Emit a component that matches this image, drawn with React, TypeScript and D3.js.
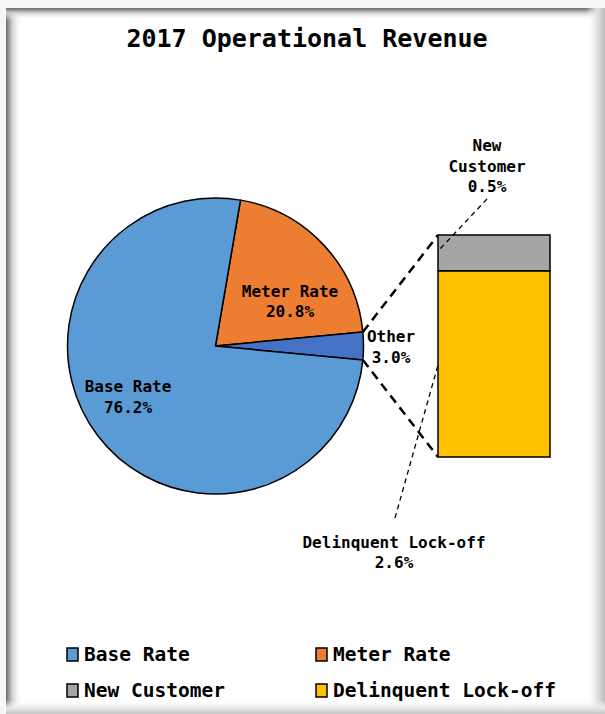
import React from "react";
import * as d3 from "d3";

const pieCategories = ["Meter Rate", "Other", "Base Rate"];
const pieValues = [20.8, 3.0, 76.2];
const pieColors = ["#ED7D31", "#4472C4", "#5B9BD5"];

const barCategories = ["Delinquent Lock-off", "New Customer"];
const barValues = [2.6, 0.5];
const barColors = ["#FFC000", "#A5A5A5"];

const legendItems = ["Base Rate", "Meter Rate", "New Customer", "Delinquent Lock-off"];
const legendColors = ["#5B9BD5", "#ED7D31", "#A5A5A5", "#FFC000"];

const W = 605;
const H = 714;
const FONT = "'DejaVu Sans Mono', monospace";

export default function App() {
  const cx = 215.5;
  const cy = 346;
  const r = 148;

  // Other slice centred at 3 o'clock
  const otherIdx = 1;
  const total = d3.sum(pieValues);
  const otherSpan = (pieValues[otherIdx] / total) * 2 * Math.PI;
  const startAngle = Math.PI / 2 - otherSpan / 2 - (pieValues[0] / total) * 2 * Math.PI;

  const pie = d3
    .pie<number>()
    .sort(null)
    .value((d) => d)
    .startAngle(startAngle)
    .endAngle(startAngle + 2 * Math.PI);
  const arcs = pie(pieValues);
  const arcGen = d3.arc<d3.PieArcDatum<number>>().innerRadius(0).outerRadius(r);

  const otherArc = arcs[otherIdx];
  const pt = (a: number) => [cx + r * Math.sin(a), cy - r * Math.cos(a)];
  const [ux, uy] = pt(otherArc.startAngle);
  const [lx, ly] = pt(otherArc.endAngle);

  // stacked bar
  const barX0 = 438;
  const barX1 = 550;
  const y = d3.scaleLinear().domain([0, d3.sum(barValues)]).range([457, 235]);
  let acc = 0;
  const segs = barValues.map((v, i) => {
    const s = { y0: y(acc), y1: y(acc + v), color: barColors[i], name: barCategories[i] };
    acc += v;
    return s;
  });

  const labelStyle: React.CSSProperties = {
    fontFamily: FONT,
    fontWeight: "bold",
    fontSize: 16,
    fill: "#000",
  };

  return (
    <svg
      width={W}
      height={H}
      style={{ position: "fixed", left: 0, top: 0, display: "block" }}
    >
      <defs>
        <linearGradient id="gl" x1="0" x2="1" y1="0" y2="0">
          <stop offset="0" stopColor="#6e6e6e" />
          <stop offset="0.12" stopColor="#8a8a8a" />
          <stop offset="0.35" stopColor="#c8c8c8" />
          <stop offset="1" stopColor="#ffffff" stopOpacity="0" />
        </linearGradient>
        <linearGradient id="gt" x1="0" x2="0" y1="0" y2="1">
          <stop offset="0" stopColor="#6e6e6e" />
          <stop offset="0.15" stopColor="#8a8a8a" />
          <stop offset="0.4" stopColor="#cfcfcf" />
          <stop offset="1" stopColor="#ffffff" stopOpacity="0" />
        </linearGradient>
        <linearGradient id="gr" x1="0" x2="1" y1="0" y2="0">
          <stop offset="0" stopColor="#ffffff" stopOpacity="0" />
          <stop offset="0.6" stopColor="#e0e0e0" />
          <stop offset="1" stopColor="#bdbdbd" />
        </linearGradient>
        <linearGradient id="gb" x1="0" x2="0" y1="0" y2="1">
          <stop offset="0" stopColor="#ffffff" stopOpacity="0" />
          <stop offset="0.6" stopColor="#e6e6e6" />
          <stop offset="1" stopColor="#c4c4c4" />
        </linearGradient>
      </defs>

      <rect x={0} y={0} width={W} height={H} fill="#f6f6f6" />
      <rect x={6} y={8} width={W - 6} height={H - 8} fill="#ffffff" />
      <rect x={6} y={8} width={16} height={H - 8} fill="url(#gl)" />
      <rect x={6} y={8} width={W - 6} height={12} fill="url(#gt)" />
      <rect x={586} y={8} width={19} height={H - 8} fill="url(#gr)" />
      <rect x={6} y={700} width={W - 6} height={14} fill="url(#gb)" />

      <text
        x={307}
        y={47}
        textAnchor="middle"
        style={{ fontFamily: FONT, fontWeight: "bold", fontSize: 25 }}
      >
        2017 Operational Revenue
      </text>

      {/* pie */}
      <g transform={`translate(${cx},${cy})`}>
        {arcs.map((a, i) => (
          <path
            key={pieCategories[i]}
            d={arcGen(a) || ""}
            fill={pieColors[i]}
            stroke="#000"
            strokeWidth={1.5}
            strokeLinejoin="round"
          />
        ))}
      </g>

      {/* connector lines */}
      <line x1={ux} y1={uy} x2={barX0} y2={segs[segs.length - 1].y1} stroke="#000" strokeWidth={2.5} strokeDasharray="9,6" />
      <line x1={lx} y1={ly} x2={barX0} y2={segs[0].y0} stroke="#000" strokeWidth={2.5} strokeDasharray="9,6" />

      {/* bar */}
      {segs.map((s) => (
        <rect
          key={s.name}
          x={barX0}
          y={s.y1}
          width={barX1 - barX0}
          height={s.y0 - s.y1}
          fill={s.color}
          stroke="#000"
          strokeWidth={1.5}
        />
      ))}

      {/* leader lines */}
      <line x1={487} y1={199} x2={440} y2={249} stroke="#000" strokeWidth={1.3} strokeDasharray="5,4" />
      <line x1={395} y1={518} x2={438} y2={365} stroke="#000" strokeWidth={1.3} strokeDasharray="5,4" />

      {/* labels */}
      <text x={290} y={297} textAnchor="middle" style={labelStyle}>Meter Rate</text>
      <text x={290} y={317} textAnchor="middle" style={labelStyle}>20.8%</text>
      <text x={128} y={392} textAnchor="middle" style={labelStyle}>Base Rate</text>
      <text x={128} y={413} textAnchor="middle" style={labelStyle}>76.2%</text>
      <text x={391} y={342} textAnchor="middle" style={labelStyle}>Other</text>
      <text x={391} y={363} textAnchor="middle" style={labelStyle}>3.0%</text>
      <text x={487} y={151} textAnchor="middle" style={labelStyle}>New</text>
      <text x={487} y={172} textAnchor="middle" style={labelStyle}>Customer</text>
      <text x={487} y={192} textAnchor="middle" style={labelStyle}>0.5%</text>
      <text x={394} y={548} textAnchor="middle" style={labelStyle}>Delinquent Lock-off</text>
      <text x={394} y={568} textAnchor="middle" style={labelStyle}>2.6%</text>

      {/* legend */}
      {legendItems.map((name, i) => {
        const col = i % 2;
        const row = Math.floor(i / 2);
        const lx0 = col === 0 ? 67 : 316;
        const ly0 = row === 0 ? 661 : 697;
        return (
          <g key={name}>
            <rect x={lx0} y={ly0 - 13} width={11} height={13} fill={legendColors[i]} stroke="#000" strokeWidth={1.5} />
            <text x={lx0 + 17} y={ly0} style={{ fontFamily: FONT, fontWeight: "bold", fontSize: 19.5 }}>
              {name}
            </text>
          </g>
        );
      })}
    </svg>
  );
}
